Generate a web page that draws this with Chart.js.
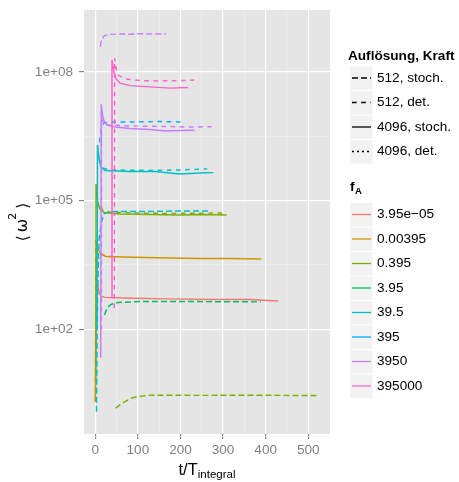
<!DOCTYPE html>
<html>
<head>
<meta charset="utf-8">
<script src="https://cdn.jsdelivr.net/npm/chart.js@4.4.1/dist/chart.umd.min.js"></script>
<style>
  html, body { margin: 0; padding: 0; background: #fff; }
  #wrap { width: 459px; height: 482px; }
</style>
</head>
<body>
<div id="wrap"><canvas id="chart" width="459" height="482"></canvas></div>
<script>
// colour legend: f_A levels (ggplot hue palette)
const fALevels = ['3.95e\u221205', '0.00395', '0.395', '3.95', '39.5', '395', '3950', '395000'];
const fAColors = ['#F8766D', '#CD9600', '#7CAE00', '#00BE67', '#00BFC4', '#00A9FF', '#C77CFF', '#FF61CC'];

// linetype legend: resolution, forcing
const runLevels = ['512, stoch.', '512, det.', '4096, stoch.', '4096, det.'];
const runDashes = [[6, 3], [4.6, 4.6], [], [2, 3]];

const xTicks = [0, 100, 200, 300, 400, 500];
const xMinor = [50, 150, 250, 350, 450];
const yTicks = [1e2, 1e5, 1e8];
const yTickLabels = ['1e+02', '1e+05', '1e+08'];
const yMinor = [0.3162, 3162, 3.162e6];

// runs as [t/T_integral, <omega^2>]
const w_3950_512stoch = [[11.7, 3.9e8], [14.6, 5.6e8], [20.4, 6.9e8], [29.8, 7.5e8], [58, 7.7e8], [80, 7.6e8], [105, 7.8e8], [130, 7.7e8], [166, 7.7e8]];
const w_395000_4096stoch = [[38, 540], [39.2, 1.9e8], [43.9, 1.0e8], [48.6, 6.9e7], [58, 5.5e7], [81.5, 4.8e7], [128, 4.5e7], [175, 4.2e7], [218, 4.35e7]];
const w_395000_512det = [[44.6, 316], [45.5, 2.1e8], [48.6, 1.24e8], [53.3, 8.5e7], [69.7, 6.9e7], [105, 6.3e7], [152, 6.2e7], [199, 6.3e7], [232, 6.5e7]];
const w_3950_4096stoch = [[12.7, 21.9], [14.1, 1.77e7], [16.9, 1.0e7], [20.4, 7.2e6], [27.5, 5.8e6], [46.2, 5.2e6], [81.5, 4.8e6], [128, 4.57e6], [164, 4.2e6], [199, 4.3e6], [233, 4.4e6]];
const w_3950_512det = [[14.2, 97], [14.6, 8.5e6], [18.1, 6.5e6], [29.8, 5.8e6], [81.5, 5.5e6], [152, 5.4e6], [222, 5.2e6], [273, 5.3e6]];
const w_395_512det = [[9.9, 2.3e6], [11, 3.05e6], [14.6, 4.95e6], [20.4, 6.5e6], [34.5, 6.8e6], [81.5, 6.8e6], [152, 7.0e6], [206, 6.8e6]];
const w_39_5_4096stoch = [[4.0, 97], [5.2, 1.99e6], [8.7, 9.9e5], [13.4, 6.1e5], [22.8, 5.06e5], [81.5, 4.8e5], [140, 4.8e5], [199, 4.19e5], [246, 4.43e5], [277, 4.5e5]];
const w_39_5_512det = [[8.7, 8.9e5], [15.7, 5.8e5], [34.5, 5.2e5], [128, 5.06e5], [199, 5.2e5], [263, 5.5e5]];
const w_39_5_512stoch = [[2.8, 1.19], [5.2, 484], [8.7, 1.21e4], [14.6, 3.19e4], [20.4, 4.9e4], [34.5, 5.6e4], [128, 5.6e4], [199, 5.75e4], [265, 5.75e4]];
const w_0_395_4096stoch = [[0.9, 6.6], [1.6, 2.45e5], [6.3, 8.8e4], [11, 6.4e4], [20.4, 5.3e4], [58, 4.9e4], [128, 4.77e4], [199, 4.64e4], [246, 4.77e4], [308, 4.64e4]];
const w_0_395_512det = [[11, 7.1e4], [22.8, 5.46e4], [81.5, 5.17e4], [175, 5.03e4], [308, 5.17e4]];
const w_0_00395_4096stoch = [[0, 2.03], [2.8, 9.8e3], [6.3, 7.5e3], [13.4, 5.7e3], [25.1, 5.0e3], [88.5, 4.8e3], [175, 4.6e3], [246, 4.5e3], [316, 4.5e3], [390, 4.37e3]];
const w_0_00395_512det = [[0.3, 2.2], [1.5, 1.2e4], [4, 8.5e3], [10, 6.0e3], [25, 5.1e3], [50, 4.9e3]];
const w_3_95e_05_4096stoch = [[5.2, 1208], [8.7, 745], [13.4, 585], [22.8, 555], [88.5, 531], [175, 512], [269, 498], [363, 498], [429, 459]];
const w_3_95_512stoch = [[21.6, 217], [27.5, 316], [36.9, 380], [53.3, 424], [105, 443], [246, 443], [389, 436]];
const w_0_395_512stoch = [[47.9, 1.45], [58, 1.73], [69.7, 2.07], [83.8, 2.45], [98.6, 2.70], [128, 2.91], [246, 2.88], [363, 2.91], [523, 2.85]];

// fa = index into fALevels, run = index into runLevels
const series = [
  { fa: 7, run: 2, data: w_395000_4096stoch },
  { fa: 7, run: 1, data: w_395000_512det },
  { fa: 6, run: 0, data: w_3950_512stoch },
  { fa: 6, run: 2, data: w_3950_4096stoch },
  { fa: 6, run: 1, data: w_3950_512det },
  { fa: 5, run: 1, data: w_395_512det },
  { fa: 4, run: 2, data: w_39_5_4096stoch },
  { fa: 4, run: 1, data: w_39_5_512det },
  { fa: 4, run: 0, data: w_39_5_512stoch },
  { fa: 3, run: 0, data: w_3_95_512stoch },
  { fa: 2, run: 2, data: w_0_395_4096stoch },
  { fa: 2, run: 1, data: w_0_395_512det },
  { fa: 2, run: 0, data: w_0_395_512stoch },
  { fa: 1, run: 2, data: w_0_00395_4096stoch },
  { fa: 1, run: 1, data: w_0_00395_512det },
  { fa: 0, run: 2, data: w_3_95e_05_4096stoch },
];

const FONT = '"Liberation Sans", Arial, sans-serif';

const panelBg = {
  id: 'panelBg',
  beforeDraw(chart) {
    const { ctx, chartArea: a } = chart;
    ctx.save();
    ctx.fillStyle = '#E5E5E5';
    ctx.fillRect(a.left, a.top, a.right - a.left, a.bottom - a.top);
    ctx.restore();
  }
};

const decorations = {
  id: 'decorations',
  afterDraw(chart) {
    const ctx = chart.ctx;
    const a = chart.chartArea;
    ctx.save();
    ctx.fillStyle = '#000';
    ctx.textBaseline = 'alphabetic';

    // x title: t/T_integral
    ctx.font = '16.5px ' + FONT;
    const main = 't/T';
    const mw = ctx.measureText(main).width;
    ctx.font = '11.5px ' + FONT;
    const sub = 'integral';
    const sw = ctx.measureText(sub).width;
    let x0 = (a.left + a.right) / 2 - (mw + sw) / 2;
    ctx.font = '16.5px ' + FONT;
    ctx.fillText(main, x0, 475);
    ctx.font = '11.5px ' + FONT;
    ctx.fillText(sub, x0 + mw, 477.5);

    // y title: <omega^2>
    ctx.save();
    ctx.translate(22, (a.top + a.bottom) / 2);
    ctx.rotate(-Math.PI / 2);
    const big = '16px "DejaVu Sans", sans-serif';
    const small = '11px "DejaVu Sans", sans-serif';
    ctx.font = big;
    const wl = ctx.measureText('\u27E8').width;
    const wo = ctx.measureText('\u03C9').width;
    const wr = ctx.measureText('\u27E9').width;
    ctx.font = small;
    const w2 = ctx.measureText('2').width;
    const gap = 3;
    const total = wl + gap + wo + w2 + gap + wr;
    let px = -total / 2;
    ctx.font = big;
    ctx.fillText('\u27E8', px, 6); px += wl + gap;
    ctx.fillText('\u03C9', px, 5); px += wo;
    ctx.font = small;
    ctx.fillText('2', px - 1, -6); px += w2 + gap;
    ctx.font = big;
    ctx.fillText('\u27E9', px, 6);
    ctx.restore();

    // legend: linetype
    ctx.textBaseline = 'middle';
    ctx.font = 'bold 13.6px ' + FONT;
    ctx.fillText('Aufl\u00F6sung, Kraft', 348, 56);
    runLevels.forEach((lab, i) => {
      const cy = 78 + i * 24.5;
      ctx.fillStyle = '#F2F2F2';
      ctx.fillRect(350, cy - 11.5, 22.5, 23.5);
      ctx.strokeStyle = '#000';
      ctx.lineWidth = 1.3;
      ctx.setLineDash(runDashes[i]);
      ctx.beginPath();
      ctx.moveTo(352, cy);
      ctx.lineTo(371, cy);
      ctx.stroke();
      ctx.setLineDash([]);
      ctx.fillStyle = '#000';
      ctx.font = '13.6px ' + FONT;
      ctx.fillText(lab, 377, cy);
    });

    // legend: colour
    ctx.font = 'bold 13.6px ' + FONT;
    ctx.fillText('f', 350, 187);
    const fw = ctx.measureText('f').width;
    ctx.font = 'bold 9.5px ' + FONT;
    ctx.fillText('A', 350 + fw + 0.5, 191);
    fALevels.forEach((lab, i) => {
      const cy = 214.5 + i * 24.5;
      ctx.fillStyle = '#F2F2F2';
      ctx.fillRect(350, cy - 11.5, 22.5, 23.5);
      ctx.strokeStyle = fAColors[i];
      ctx.lineWidth = 1.3;
      ctx.beginPath();
      ctx.moveTo(352, cy);
      ctx.lineTo(371, cy);
      ctx.stroke();
      ctx.fillStyle = '#000';
      ctx.font = '13.6px ' + FONT;
      ctx.fillText(lab, 377, cy);
    });
    ctx.restore();
  }
};

const isMajorX = v => xTicks.includes(v);
const isMajorY = v => yTicks.includes(v);

new Chart(document.getElementById('chart'), {
  type: 'scatter',
  data: {
    datasets: series.map(s => ({
      data: s.data.map(p => ({ x: p[0], y: p[1] })),
      showLine: true,
      borderColor: fAColors[s.fa],
      borderDash: runDashes[s.run],
      borderWidth: 1.45,
      pointRadius: 0,
      pointHoverRadius: 0,
      fill: false,
      tension: 0
    }))
  },
  options: {
    responsive: false,
    animation: false,
    events: [],
    layout: { padding: { top: 10, right: 129, left: 0, bottom: 0 } },
    plugins: { legend: { display: false }, tooltip: { enabled: false } },
    scales: {
      x: {
        type: 'linear',
        bounds: 'data',
        min: -26.5,
        max: 551,
        afterBuildTicks: s => {
          s.ticks = xTicks.concat(xMinor).sort((p, q) => p - q).map(v => ({ value: v }));
        },
        afterFit: s => {
          s.height = 48;
          s.paddingLeft = 0; s.paddingRight = 0;
        },
        ticks: {
          autoSkip: false,
          maxRotation: 0,
          padding: 3,
          color: '#7F7F7F',
          font: { family: FONT, size: 13.6 },
          callback: v => isMajorX(v) ? String(v) : ''
        },
        grid: {
          color: c => isMajorX(c.tick.value) ? '#FFFFFF' : '#F2F2F2',
          lineWidth: c => isMajorX(c.tick.value) ? 1.2 : 0.6,
          tickColor: c => isMajorX(c.tick.value) ? '#7F7F7F' : 'rgba(0,0,0,0)',
          tickLength: 5,
          tickWidth: 1.1
        },
        border: { display: false }
      },
      y: {
        type: 'logarithmic',
        bounds: 'data',
        min: 0.3625,
        max: 2.787e9,
        afterBuildTicks: s => {
          s.ticks = yMinor.concat(yTicks).sort((p, q) => p - q).map(v => ({ value: v }));
        },
        afterFit: s => {
          s.width = 84;
          s.paddingTop = 0; s.paddingBottom = 0;
        },
        ticks: {
          autoSkip: false,
          padding: 6,
          color: '#7F7F7F',
          font: { family: FONT, size: 13.6 },
          callback: v => isMajorY(v) ? yTickLabels[yTicks.indexOf(v)] : ''
        },
        grid: {
          color: c => isMajorY(c.tick.value) ? '#FFFFFF' : '#F2F2F2',
          lineWidth: c => isMajorY(c.tick.value) ? 1.2 : 0.6,
          tickColor: c => isMajorY(c.tick.value) ? '#7F7F7F' : 'rgba(0,0,0,0)',
          tickLength: 5,
          tickWidth: 1.1
        },
        border: { display: false }
      }
    }
  },
  plugins: [panelBg, decorations]
});
</script>
</body>
</html>
